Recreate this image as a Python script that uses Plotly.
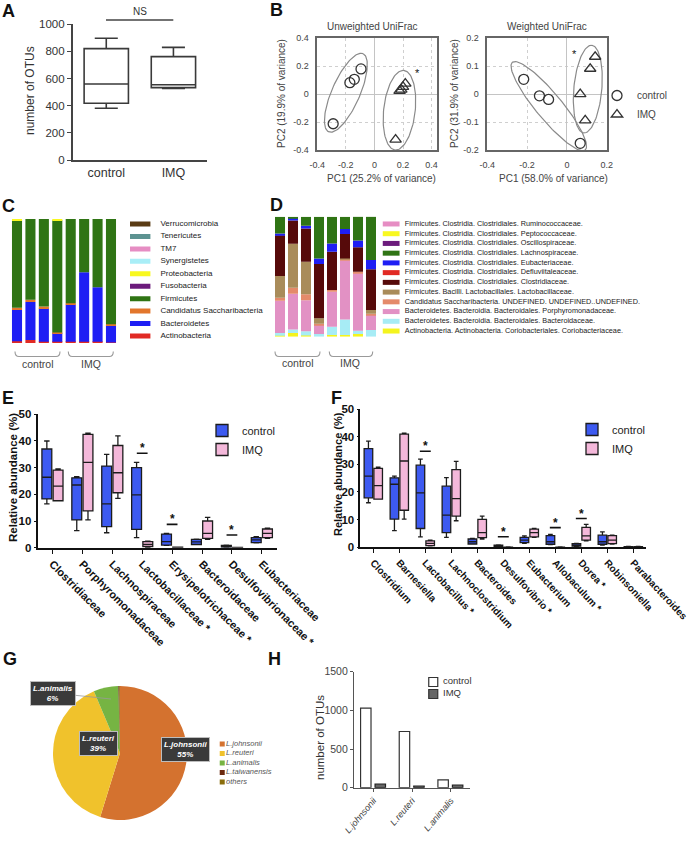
import numpy as np
import plotly.graph_objects as go

W, H = 690, 842
FONT = "Liberation Sans, Arial, sans-serif"


def X(px):
    return px / W


def Y(py):
    return 1 - py / H


# ---------------- data ----------------
# A: number of OTUs
A_groups = ["control", "IMQ"]
A_lower = [381, 528]
A_q1 = [418, 533]
A_median = [560, 555]
A_q3 = [821, 762]
A_upper = [897, 830]

# B: PCoA
B_uw_ctrl_x = [-0.094, -0.141, -0.172, -0.289]
B_uw_ctrl_y = [0.181, 0.106, 0.082, -0.212]
B_uw_imq_x = [0.216, 0.200, 0.188, 0.176, 0.148]
B_uw_imq_y = [0.075, 0.052, 0.033, 0.024, -0.325]
B_w_ctrl_x = [-0.217, -0.138, -0.092, 0.067]
B_w_ctrl_y = [0.053, -0.006, -0.019, -0.176]
B_w_imq_x = [0.142, 0.117, 0.067, 0.092]
B_w_imq_y = [0.134, 0.091, 0.000, -0.094]

# C: phylum composition (%), stacked bottom -> top
C_samples = ["C1", "C2", "C3", "C4", "I1", "I2", "I3", "I4"]
C_phyla = ["Actinobacteria", "Bacteroidetes", "Candidatus Saccharibacteria", "Firmicutes",
           "Fusobacteria", "Proteobacteria", "Synergistetes", "TM7", "Tenericutes", "Verrucomicrobia"]
C_colors = ["#e12a24", "#1e1ef4", "#e2762c", "#2f7414", "#6c1b7c", "#f8f820", "#a9eef7",
            "#e68dc3", "#5d9391", "#5a3b14"]
C_actinobacteria = [1.5, 2.5, 1.0, 1.0, 1.0, 1.0, 1.0, 0.5]
C_bacteroidetes = [25.5, 30.5, 27.0, 7.0, 30.0, 56.0, 44.0, 14.0]
C_saccharibacteria = [1.5, 1.9, 1.5, 0.5, 1.0, 0.0, 0.0, 0.7]
C_firmicutes = [70.5, 65.1, 70.5, 90.5, 68.0, 43.0, 55.0, 84.8]
C_fusobacteria = [0, 0, 0, 0, 0, 0, 0, 0]
C_proteobacteria = [1.0, 0, 0, 1.0, 0, 0, 0, 0]
C_synergistetes = [0, 0, 0, 0, 0, 0, 0, 0]
C_tm7 = [0, 0, 0, 0, 0, 0, 0, 0]
C_tenericutes = [0, 0, 0, 0, 0, 0, 0, 0]
C_verrucomicrobia = [0, 0, 0, 0, 0, 0, 0, 0]
C_series = [C_actinobacteria, C_bacteroidetes, C_saccharibacteria, C_firmicutes, C_fusobacteria,
            C_proteobacteria, C_synergistetes, C_tm7, C_tenericutes, C_verrucomicrobia]

# D: family composition (%), stacked bottom -> top
D_samples = C_samples
D_families = [
    "Actinobacteria. Actinobacteria. Coriobacteriales. Coriobacteriaceae.",
    "Bacteroidetes. Bacteroidia. Bacteroidales. Bacteroidaceae.",
    "Bacteroidetes. Bacteroidia. Bacteroidales. Porphyromonadaceae.",
    "Candidatus Saccharibacteria. UNDEFINED. UNDEFINED..UNDEFINED.",
    "Firmicutes. Bacilli. Lactobacillales. Lactobacillaceae.",
    "Firmicutes. Clostridia. Clostridiales. Clostridiaceae.",
    "Firmicutes. Clostridia. Clostridiales. Defluviitaleaceae.",
    "Firmicutes. Clostridia. Clostridiales. Eubacteriaceae.",
    "Firmicutes. Clostridia. Clostridiales. Lachnospiraceae.",
    "Firmicutes. Clostridia. Clostridiales. Oscillospiraceae.",
    "Firmicutes. Clostridia. Clostridiales. Peptococcaceae.",
    "Firmicutes. Clostridia. Clostridiales. Ruminococcaceae.",
]
D_colors = ["#f4f41e", "#a7ecf5", "#e291c4", "#e48a6a", "#a98c5a", "#560a0a", "#e12a24",
            "#1e1ef4", "#2f7414", "#6c1b7c", "#f8f820", "#e68dc3"]
D_coriobacteriaceae = [1.5, 3.0, 1.0, 0.0, 1.4, 1.4, 2.2, 0.0]
D_bacteroidaceae = [1.5, 3.0, 3.6, 2.2, 6.9, 13.0, 2.8, 5.6]
D_porphyromonadaceae = [27.0, 29.7, 25.8, 7.5, 29.2, 49.4, 47.8, 12.5]
D_saccharibacteria = [2.5, 5.0, 5.0, 1.0, 1.4, 0.7, 1.4, 1.0]
D_lactobacillaceae = [18.0, 36.7, 27.0, 4.7, 0.0, 0.7, 0.0, 3.2]
D_clostridiaceae = [34.0, 19.4, 27.8, 45.1, 31.9, 20.3, 20.3, 33.9]
D_defluviitaleaceae = [0, 0, 0, 0, 0, 0, 0, 0]
D_eubacteriaceae = [1.5, 2.2, 2.2, 4.7, 6.9, 4.2, 5.6, 7.8]
D_lachnospiraceae = [14.0, 1.0, 7.5, 34.7, 22.2, 10.3, 20.0, 36.1]
D_oscillospiraceae = [0, 0, 0, 0, 0, 0, 0, 0]
D_peptococcaceae = [0, 0, 0, 0, 0, 0, 0, 0]
D_ruminococcaceae = [0, 0, 0, 0, 0, 0, 0, 0]
D_series = [D_coriobacteriaceae, D_bacteroidaceae, D_porphyromonadaceae, D_saccharibacteria,
            D_lactobacillaceae, D_clostridiaceae, D_defluviitaleaceae, D_eubacteriaceae,
            D_lachnospiraceae, D_oscillospiraceae, D_peptococcaceae, D_ruminococcaceae]

# E: families, relative abundance (%)
E_families = ["Clostridiaceae", "Porphyromonadaceae", "Lachnospiraceae", "Lactobacillaceae *",
              "Erysipelotrichaceae *", "Bacteroidaceae", "Desulfovibrionaceae *", "Eubacteriaceae"]
E_ctrl_lower = [16.4, 6.4, 5.6, 3.8, 0.9, 1.2, 0.1, 1.8]
E_ctrl_q1 = [18.3, 10.4, 7.9, 6.9, 1.0, 1.2, 0.2, 1.9]
E_ctrl_median = [26.4, 23.5, 16.4, 19.8, 2.3, 2.2, 0.5, 2.9]
E_ctrl_q3 = [37.0, 26.2, 30.6, 30.0, 5.1, 3.1, 0.9, 3.8]
E_ctrl_upper = [40.0, 26.6, 35.0, 32.0, 5.4, 3.2, 1.0, 4.1]
E_imq_lower = [17.6, 10.4, 18.5, 0.1, 0.05, 3.1, 0.0, 3.5]
E_imq_q1 = [17.6, 13.8, 20.6, 0.4, 0.1, 3.5, 0.02, 3.8]
E_imq_median = [23.1, 32.0, 28.1, 1.2, 0.15, 5.4, 0.05, 5.4]
E_imq_q3 = [29.1, 42.5, 38.3, 2.3, 0.2, 10.0, 0.08, 7.0]
E_imq_upper = [29.5, 42.9, 41.9, 2.5, 0.25, 11.4, 0.1, 7.3]
E_sig_cats = ["Lactobacillaceae *", "Erysipelotrichaceae *", "Desulfovibrionaceae *"]
E_sig_levels = [35.4, 8.75, 4.75]

# F: genera, relative abundance (%)
F_genera = ["Clostridium", "Barnesiella", "Lactobacillus *", "Lachnoclostridium", "Bacteroides",
            "Desulfovibrio *", "Eubacterium", "Allobaculum *", "Dorea *", "Robinsoniella",
            "Parabacteroides"]
F_ctrl_lower = [16.1, 6.0, 3.8, 3.6, 1.2, 0.1, 1.4, 1.0, 0.3, 0.8, 0.1]
F_ctrl_q1 = [17.9, 10.2, 6.8, 5.3, 1.2, 0.2, 1.7, 1.1, 0.4, 1.1, 0.15]
F_ctrl_median = [25.7, 22.8, 19.7, 11.6, 2.0, 0.5, 2.6, 2.0, 0.7, 2.0, 0.2]
F_ctrl_q3 = [35.7, 25.1, 29.7, 22.1, 3.0, 0.8, 3.6, 4.2, 1.3, 4.4, 0.25]
F_ctrl_upper = [38.4, 25.7, 31.9, 25.2, 3.2, 0.9, 4.1, 4.7, 1.4, 5.6, 0.3]
F_imq_lower = [17.4, 10.2, 0.5, 9.6, 3.0, 0.0, 3.6, 0.0, 2.3, 1.2, 0.1]
F_imq_q1 = [17.4, 13.4, 0.6, 11.3, 3.5, 0.02, 3.8, 0.02, 2.6, 1.3, 0.15]
F_imq_median = [22.3, 31.2, 1.4, 17.6, 5.3, 0.05, 5.3, 0.05, 4.1, 2.6, 0.2]
F_imq_q3 = [28.5, 40.9, 2.3, 28.1, 10.1, 0.08, 6.6, 0.08, 7.2, 4.2, 0.25]
F_imq_upper = [29.0, 41.3, 2.6, 31.1, 11.3, 0.1, 6.8, 0.1, 8.3, 4.4, 0.3]
F_sig_cats = ["Lactobacillus *", "Desulfovibrio *", "Allobaculum *", "Dorea *"]
F_sig_levels = [34.7, 3.8, 7.1, 10.4]

# G: Lactobacillus species share (%)
G_species = ["L.johnsonii", "L.reuteri", "L.animalis", "L.taiwanensis", "others"]
G_share = [55, 39, 6, 0.2, 0.2]
G_colors = ["#d4722f", "#f0c22c", "#76b443", "#6b2a0f", "#8a6d0b"]
G_labels = ["L.johnsonii<br>55%", "L.reuteri<br>39%", "L.animalis<br>6%"]

# H: number of OTUs per species
H_species = ["L.johnsonii", "L.reuteri", "L.animalis"]
H_ctrl = [1030, 727, 100]
H_imq = [48, 22, 35]

fig = go.Figure()
NOHOVER = dict(hoverinfo="skip", showlegend=False)

# ---------------- A ----------------
fig.add_trace(go.Box(x=A_groups, q1=A_q1, median=A_median, q3=A_q3, lowerfence=A_lower,
                     upperfence=A_upper, width=0.66, whiskerwidth=0.52, fillcolor="white",
                     line=dict(color="#3a3a3a", width=1.6), boxpoints=False,
                     alignmentgroup="A", offsetgroup="a",
                     xaxis="x", yaxis="y", **NOHOVER))

# ---------------- B ----------------
def ellipse(cx, cy, ax_, ay_, bx, by, xa, ya):
    t = np.linspace(0, 2 * np.pi, 120)
    return go.Scatter(x=cx + ax_ * np.cos(t) + bx * np.sin(t),
                      y=cy + ay_ * np.cos(t) + by * np.sin(t),
                      mode="lines", line=dict(color="#8a8a8a", width=1.2),
                      xaxis=xa, yaxis=ya, **NOHOVER)


fig.add_trace(ellipse(-0.20, 0.01, 0.12, 0.28, 0.09, -0.04, "x2", "y2"))
fig.add_trace(ellipse(0.175, -0.115, 0.03, 0.285, 0.11, -0.01, "x2", "y2"))
fig.add_trace(ellipse(-0.091, -0.043, 0.183, -0.157, 0.05, 0.03, "x3", "y3"))
fig.add_trace(ellipse(0.105, 0.018, 0.02, 0.157, 0.07, -0.005, "x3", "y3"))

mk_c = dict(symbol="circle-open", size=10, color="#333", line=dict(width=1.3))
mk_t = dict(symbol="triangle-up-open", size=10, color="#333", line=dict(width=1.3))
fig.add_trace(go.Scatter(x=B_uw_ctrl_x, y=B_uw_ctrl_y, mode="markers", marker=mk_c,
                         xaxis="x2", yaxis="y2", **NOHOVER))
fig.add_trace(go.Scatter(x=B_uw_imq_x, y=B_uw_imq_y, mode="markers", marker=mk_t,
                         xaxis="x2", yaxis="y2", **NOHOVER))
fig.add_trace(go.Scatter(x=B_w_ctrl_x, y=B_w_ctrl_y, mode="markers", marker=mk_c, name="control",
                         xaxis="x3", yaxis="y3", hoverinfo="skip", showlegend=True, legend="legend"))
fig.add_trace(go.Scatter(x=B_w_imq_x, y=B_w_imq_y, mode="markers", marker=mk_t, name="IMQ",
                         xaxis="x3", yaxis="y3", hoverinfo="skip", showlegend=True, legend="legend"))

# ---------------- C ----------------
C_vals = np.array(C_series, dtype=float)
C_base = np.vstack([np.zeros(len(C_samples)), np.cumsum(C_vals, axis=0)[:-1]])
for name, col, vals, base in zip(C_phyla, C_colors, C_vals, C_base):
    fig.add_trace(go.Bar(x=C_samples, y=vals, base=base, width=0.75, name=name,
                         marker=dict(color=col, line=dict(width=0)),
                         xaxis="x4", yaxis="y4", **NOHOVER))
fig.add_trace(go.Scatter(x=[0.063] * len(C_phyla), y=C_phyla, mode="markers",
                         marker=dict(symbol="line-ew", size=17, line=dict(width=5, color=C_colors)),
                         xaxis="x5", yaxis="y5", **NOHOVER))
fig.add_trace(go.Scatter(x=[0.225] * len(C_phyla), y=C_phyla, mode="text", text=C_phyla,
                         textposition="middle right",
                         textfont=dict(size=8, color="#222", family=FONT),
                         xaxis="x5", yaxis="y5", **NOHOVER))

# ---------------- D ----------------
D_vals = np.array(D_series, dtype=float)
D_base = np.vstack([np.zeros(len(D_samples)), np.cumsum(D_vals, axis=0)[:-1]])
for name, col, vals, base in zip(D_families, D_colors, D_vals, D_base):
    fig.add_trace(go.Bar(x=D_samples, y=vals, base=base, width=0.77, name=name,
                         marker=dict(color=col, line=dict(width=0)),
                         xaxis="x6", yaxis="y6", **NOHOVER))
fig.add_trace(go.Scatter(x=[0.036] * len(D_families), y=D_families, mode="markers",
                         marker=dict(symbol="line-ew", size=12, line=dict(width=5, color=D_colors)),
                         xaxis="x7", yaxis="y7", **NOHOVER))
fig.add_trace(go.Scatter(x=[0.08] * len(D_families), y=D_families, mode="text", text=D_families,
                         textposition="middle right",
                         textfont=dict(size=7.3, color="#222", family=FONT),
                         xaxis="x7", yaxis="y7", **NOHOVER))

# ---------------- E / F ----------------
CTRL_FILL, IMQ_FILL = "#3d5af1", "#f4b8da"


def boxes(cats, lo, q1, med, q3, hi, fill, name, xa, ya, leg, agroup, ogroup):
    return go.Box(x=cats, lowerfence=lo, q1=q1, median=med, q3=q3, upperfence=hi, name=name,
                  fillcolor=fill, line=dict(color="#1c1c1c", width=1.3), whiskerwidth=0.55,
                  boxpoints=False, xaxis=xa, yaxis=ya, legend=leg, showlegend=True,
                  alignmentgroup=agroup, offsetgroup=ogroup, hoverinfo="skip")


fig.add_trace(boxes(E_families, E_ctrl_lower, E_ctrl_q1, E_ctrl_median, E_ctrl_q3, E_ctrl_upper,
                    CTRL_FILL, "control", "x8", "y8", "legend2", "E", "e_ctrl"))
fig.add_trace(boxes(E_families, E_imq_lower, E_imq_q1, E_imq_median, E_imq_q3, E_imq_upper,
                    IMQ_FILL, "IMQ", "x8", "y8", "legend2", "E", "e_imq"))
fig.add_trace(boxes(F_genera, F_ctrl_lower, F_ctrl_q1, F_ctrl_median, F_ctrl_q3, F_ctrl_upper,
                    CTRL_FILL, "control", "x9", "y9", "legend3", "F", "f_ctrl"))
fig.add_trace(boxes(F_genera, F_imq_lower, F_imq_q1, F_imq_median, F_imq_q3, F_imq_upper,
                    IMQ_FILL, "IMQ", "x9", "y9", "legend3", "F", "f_imq"))

# ---------------- G ----------------
fig.add_trace(go.Pie(labels=G_species, values=G_share, sort=False, direction="clockwise",
                     rotation=0, textinfo="none", marker=dict(colors=G_colors, line=dict(width=0)),
                     domain=dict(x=[X(37), X(203)], y=[Y(820), Y(686)]),
                     hoverinfo="skip", showlegend=False))
fig.add_trace(go.Scatter(x=[0.085] * len(G_species), y=G_species, mode="markers",
                         marker=dict(symbol="square", size=5, color=G_colors),
                         xaxis="x10", yaxis="y10", **NOHOVER))
fig.add_trace(go.Scatter(x=[0.13] * len(G_species), y=G_species, mode="text",
                         text=["<i>%s</i>" % s for s in G_species], textposition="middle right",
                         textfont=dict(size=7.5, color="#555", family=FONT),
                         xaxis="x10", yaxis="y10", **NOHOVER))

# ---------------- H ----------------
fig.add_trace(go.Bar(x=H_species, y=H_ctrl, offset=-0.33, width=0.27, name="control",
                     marker=dict(color="white", line=dict(color="#333", width=1.2)),
                     xaxis="x11", yaxis="y11", **NOHOVER))
fig.add_trace(go.Bar(x=H_species, y=H_imq, offset=0.045, width=0.27, name="IMQ",
                     marker=dict(color="#666", line=dict(color="#222", width=1.2)),
                     xaxis="x11", yaxis="y11", **NOHOVER))
H_key = ["control", "IMQ"]
fig.add_trace(go.Scatter(x=[0.11, 0.11], y=H_key, mode="markers",
                         marker=dict(symbol="square", size=9, color=["white", "#666"],
                                     line=dict(color="#333", width=1.2)),
                         xaxis="x12", yaxis="y12", **NOHOVER))
fig.add_trace(go.Scatter(x=[0.24, 0.24], y=H_key, mode="text", text=H_key,
                         textposition="middle right",
                         textfont=dict(size=9.5, color="#333", family=FONT),
                         xaxis="x12", yaxis="y12", **NOHOVER))

# ---------------- axes ----------------
def hidden(dom, rng, anchor, cat=False):
    d = dict(domain=dom, range=rng, visible=False, fixedrange=True, anchor=anchor)
    if cat:
        d["type"] = "category"
    return d


layout_axes = {}
# A
layout_axes["xaxis"] = dict(domain=[X(72.7), X(207)], range=[-0.5, 1.5], type="category",
                            anchor="y", showline=True, linecolor="#444", linewidth=1.6,
                            ticks="", showgrid=False, zeroline=False,
                            tickfont=dict(size=12.5, color="#333"))
layout_axes["yaxis"] = dict(domain=[Y(160), Y(24.3)], range=[0, 1000], anchor="x",
                            tickvals=[0, 200, 400, 600, 800, 1000], showline=True,
                            linecolor="#444", linewidth=1.6, ticks="outside", ticklen=4,
                            tickcolor="#444", showgrid=False, zeroline=False,
                            tickfont=dict(size=11.5, color="#333"))
# B
b_common = dict(showline=True, mirror=True, linecolor="#666", linewidth=1.5, showgrid=True,
                gridcolor="#cfcfcf", griddash="dot", zeroline=True, zerolinecolor="#c4c4c4",
                zerolinewidth=1, ticks="outside", ticklen=5, tickcolor="rgba(0,0,0,0)",
                tickfont=dict(size=9, color="#444"))
layout_axes["xaxis2"] = dict(domain=[X(317.3), X(437.3)], range=[-0.4, 0.44], anchor="y2",
                             tickvals=[-0.4, -0.2, 0, 0.2, 0.4],
                             ticktext=["-0.4", "-0.2", "0", "0.2", "0.4"], **b_common)
layout_axes["yaxis2"] = dict(domain=[Y(150), Y(38.3)], range=[-0.4, 0.4], anchor="x2",
                             tickvals=[-0.4, -0.2, 0, 0.2, 0.4],
                             ticktext=["-0.4", "-0.2", "0", "0.2", "0.4"], **b_common)
layout_axes["xaxis3"] = dict(domain=[X(487.3), X(606.7)], range=[-0.4, 0.2], anchor="y3",
                             tickvals=[-0.4, -0.2, 0, 0.2],
                             ticktext=["-0.4", "-0.2", "0", "0.2"], **b_common)
layout_axes["yaxis3"] = dict(domain=[Y(150), Y(38.3)], range=[-0.2, 0.2], anchor="x3",
                             tickvals=[-0.2, -0.1, 0, 0.1, 0.2],
                             ticktext=["-0.2", "-0.1", "0", "0.1", "0.2"], **b_common)
# C
layout_axes["xaxis4"] = hidden([X(10.3), X(117.7)], [-0.5, 7.5], "y4", cat=True)
layout_axes["yaxis4"] = hidden([Y(343), Y(219)], [0, 100], "x4")
layout_axes["xaxis5"] = hidden([X(130), X(265)], [0, 1], "y5")
layout_axes["yaxis5"] = hidden([Y(342.2), Y(217.8)], [-0.5, 9.5], "x5", cat=True)
# D
layout_axes["xaxis6"] = hidden([X(273.5), X(377.5)], [-0.5, 7.5], "y6", cat=True)
layout_axes["yaxis6"] = hidden([Y(336.7), Y(216.7)], [0, 100], "x6")
layout_axes["xaxis7"] = hidden([X(380), X(690)], [0, 1], "y7")
layout_axes["yaxis7"] = hidden([Y(335.9), Y(219.1)], [-0.5, 11.5], "x7", cat=True)
# E / F
ef_x = dict(type="category", showline=True, linecolor="#111", linewidth=1.6, ticks="outside",
            ticklen=4, tickwidth=1.4, tickcolor="#111", showgrid=False, zeroline=False)
ef_y = dict(range=[0, 50], tickvals=[0, 10, 20, 30, 40, 50], showline=True, linecolor="#111",
            linewidth=1.6, ticks="outside", ticklen=2, tickwidth=1.4, tickcolor="#111",
            showgrid=False, zeroline=False,
            tickfont=dict(size=11.5, color="#111", weight="bold"))
layout_axes["xaxis8"] = dict(domain=[X(37.5), X(276.8)], range=[-0.5, 7.5], anchor="y8",
                             tickangle=45,
                             tickfont=dict(size=11, color="#111", weight="bold"), **ef_x)
layout_axes["yaxis8"] = dict(domain=[Y(547.7), Y(414.3)], anchor="x8", **ef_y)
layout_axes["xaxis9"] = dict(domain=[X(360.3), X(646.3)], range=[-0.5, 10.5], anchor="y9",
                             tickangle=47,
                             tickfont=dict(size=10, color="#111", weight="bold"), **ef_x)
layout_axes["yaxis9"] = dict(domain=[Y(547.3), Y(409)], anchor="x9", **ef_y)
# G key
layout_axes["xaxis10"] = hidden([X(215), X(300)], [0, 1], "y10")
layout_axes["yaxis10"] = hidden([Y(786.75), Y(739.25)], [4.5, -0.5], "x10", cat=True)
# H
layout_axes["xaxis11"] = dict(domain=[X(354), X(470)], range=[-0.5, 2.5], type="category",
                              anchor="y11", showline=True, linecolor="#555", linewidth=1.2,
                              ticks="outside", ticklen=3, tickcolor="#555", tickangle=-50,
                              showgrid=False, zeroline=False,
                              tickfont=dict(size=9, color="#444", style="italic"))
layout_axes["yaxis11"] = dict(domain=[Y(787.7), Y(671.7)], range=[0, 1500], anchor="x11",
                              tickvals=[0, 500, 1000, 1500], showline=True, linecolor="#555",
                              linewidth=1.2, ticks="outside", ticklen=3, tickcolor="#555",
                              showgrid=False, zeroline=False,
                              tickfont=dict(size=10.5, color="#444"))
layout_axes["xaxis12"] = hidden([X(425), X(500)], [0, 1], "y12")
layout_axes["yaxis12"] = hidden([Y(700), Y(676)], [1.5, -0.5], "x12", cat=True)

# ---------------- annotations & shapes ----------------
ann = []


def text(px, py, s, size=10, color="#333", angle=0, **kw):
    ann.append(dict(x=X(px), y=Y(py), xref="paper", yref="paper", text=s, showarrow=False,
                    xanchor="center", yanchor="middle", textangle=angle,
                    font=dict(size=size, color=color, family=FONT), **kw))


for letter, lx, ly in [("A", 8, 11), ("B", 276, 10), ("C", 8, 206), ("D", 276, 205),
                       ("E", 8, 398), ("F", 336, 398), ("G", 10, 659), ("H", 274, 659)]:
    text(lx, ly, "<b>%s</b>" % letter, size=18, color="#111")

text(139.5, 11, "NS", size=10, color="#333")
text(30, 91, "number of OTUs", size=12, angle=-90)
text(372, 27, "Unweighted UniFrac", size=10, color="#444")
text(547, 27, "Weighted UniFrac", size=10, color="#444")
text(381, 178, "PC1 (25.2% of variance)", size=10, color="#444")
text(553, 178, "PC1 (58.0% of variance)", size=10, color="#444")
text(281, 94, "PC2 (19.9% of variance)", size=10, color="#444", angle=-90)
text(454, 94, "PC2 (31.9% of variance)", size=10, color="#444", angle=-90)
text(38, 364, "control", size=10.5, color="#444")
text(91, 364, "IMQ", size=10.5, color="#444")
text(298, 363, "control", size=10.5, color="#444")
text(350, 363, "IMQ", size=10.5, color="#444")
text(13, 478, "<b>Relative abundance (%)</b>", size=11.5, color="#111", angle=-90)
text(338, 474, "<b>Relative abundance (%)</b>", size=11, color="#111", angle=-90)
text(320, 738, "number of OTUs", size=11.5, color="#333", angle=-90)

# B asterisks
ann.append(dict(x=0.30, y=0.174, xref="x2", yref="y2", text="*", showarrow=False,
                font=dict(size=11, color="#111", family=FONT), yshift=-3))
ann.append(dict(x=0.038, y=0.155, xref="x3", yref="y3", text="*", showarrow=False,
                font=dict(size=11, color="#111", family=FONT), yshift=-3))

shapes = []
# NS bar
shapes.append(dict(type="line", xref="paper", yref="paper", x0=X(106), x1=X(173.3),
                   y0=Y(20), y1=Y(20), line=dict(color="#444", width=1.3)))

# significance bars E / F
for cats, sig_cats, levels, xa, ya, half in [(E_families, E_sig_cats, E_sig_levels, "x8", "y8", 0.18),
                                             (F_genera, F_sig_cats, F_sig_levels, "x9", "y9", 0.21)]:
    for c, lev in zip(sig_cats, levels):
        i = cats.index(c)
        shapes.append(dict(type="line", xref=xa, yref=ya, x0=i - half, x1=i + half, y0=lev,
                           y1=lev, line=dict(color="#111", width=1.6)))
        ann.append(dict(x=i, y=lev, xref=xa, yref=ya, text="<b>*</b>", showarrow=False,
                        yanchor="bottom", yshift=-4,
                        font=dict(size=12, color="#111", family=FONT)))


# brackets under C / D
def bracket(x0, x1, ytop, ybot):
    p = "M %f,%f Q %f,%f %f,%f L %f,%f Q %f,%f %f,%f" % (
        X(x0), Y(ytop), X(x0), Y(ybot), X(x0 + 4), Y(ybot), X(x1 - 4), Y(ybot),
        X(x1), Y(ybot), X(x1), Y(ytop))
    shapes.append(dict(type="path", xref="paper", yref="paper", path=p,
                       line=dict(color="#9a9a9a", width=1.1)))


bracket(15, 60, 351.5, 356.5)
bracket(68.3, 113.3, 351.5, 356.5)
bracket(275, 320, 351.5, 356.5)
bracket(329.3, 372.7, 351.5, 356.5)

# G labels
box_style = dict(bgcolor="#3a3a3a", bordercolor="#bdbdbd", borderwidth=1, borderpad=2,
                 font=dict(size=8, color="white", family=FONT))
for s, (px, py) in zip(G_labels, [(161, 762), (79, 756)]):
    ann.append(dict(x=X(px), y=Y(py), xref="paper", yref="paper",
                    text="<b><i>%s</i></b>" % s, showarrow=False, **box_style))
ann.append(dict(x=X(111), y=Y(699), xref="paper", yref="paper",
                text="<b><i>%s</i></b>" % G_labels[2], showarrow=True, arrowhead=0,
                arrowwidth=0.8, arrowcolor="#999", ax=-58, ay=-6, standoff=0, **box_style))

legend_common = dict(xanchor="left", yanchor="top", bgcolor="rgba(0,0,0,0)", borderwidth=0,
                     itemwidth=30, itemclick=False, itemdoubleclick=False)

fig.update_layout(
    width=W, height=H, margin=dict(l=0, r=0, t=0, b=0), template="none",
    paper_bgcolor="white", plot_bgcolor="rgba(0,0,0,0)",
    font=dict(family=FONT, size=10, color="#333"),
    barmode="overlay", boxmode="group", boxgap=0.25, boxgroupgap=0.12,
    hovermode=False, showlegend=True,
    legend=dict(x=X(597), y=Y(81), font=dict(size=10, color="#444"), **legend_common),
    legend2=dict(x=X(202), y=Y(416), font=dict(size=11, color="#222"), **legend_common),
    legend3=dict(x=X(572), y=Y(415), font=dict(size=11, color="#222"), **legend_common),
    annotations=ann, shapes=shapes, **layout_axes,
)

fig.write_html("out.html", config={"displayModeBar": False},
               post_script="document.body.style.margin='0px';document.body.style.padding='0px';")
